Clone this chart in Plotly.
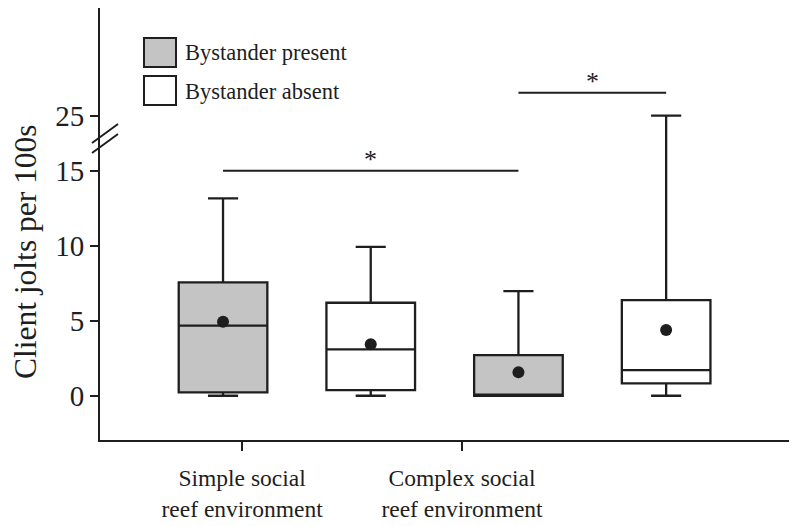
import plotly.graph_objects as go

# data (client jolts per 100 s)
group_labels = ["Simple social<br>reef environment", "Complex social<br>reef environment"]
conditions = ["Bystander present", "Bystander absent"]

# order: simple/present, simple/absent, complex/present, complex/absent
box_pos = [1, 2, 3, 4]
q1 = [0.22, 0.38, 0.0, 0.82]
median = [4.67, 3.09, 0.0, 1.71]
q3 = [7.56, 6.2, 2.71, 6.38]
lower = [0.0, 0.0, 0.0, 0.0]
upper = [13.16, 9.93, 6.98, 25.0]
means = [4.93, 3.44, 1.56, 4.38]

y_ticks = [0, 5, 10, 15, 25]

# broken y axis: everything above 15 is squeezed
BREAK = 15
SQUEEZE = 0.367


def ty(v):
    return v if v <= BREAK else BREAK + (v - BREAK) * SQUEEZE


# the page body adds an 8px margin, so shift the whole figure up/left
OFF = 8
W, H = 797 - OFF, 526 - OFF
L, R, T, B = 100 - OFF, W, 8 - OFF, 440 - OFF


def px(x):
    # screen pixel of the target -> paper x
    return (x - OFF - L) / (R - L)


def py(y):
    return (B - (y - OFF)) / (B - T)


ink = "#1e1e1e"
gray = "#c3c4c3"

fig = go.Figure()

fills = [gray, "white"]
for k in range(2):
    idx = [k, k + 2]
    fig.add_trace(go.Box(
        x=[box_pos[i] for i in idx],
        q1=[ty(q1[i]) for i in idx],
        median=[ty(median[i]) for i in idx],
        q3=[ty(q3[i]) for i in idx],
        lowerfence=[ty(lower[i]) for i in idx],
        upperfence=[ty(upper[i]) for i in idx],
        width=0.6, whiskerwidth=0.34,
        fillcolor=fills[k], line=dict(color=ink, width=2.3),
        boxpoints=False, name=conditions[k], showlegend=False,
    ))

fig.add_trace(go.Scatter(
    x=box_pos, y=[ty(m) for m in means], mode="markers",
    marker=dict(color=ink, size=12), showlegend=False,
))

# significance bars
fig.add_shape(type="line", x0=1, x1=3, y0=15, y1=15, line=dict(color=ink, width=2))
fig.add_shape(type="line", x0=3, x1=4, y0=20.2, y1=20.2, line=dict(color=ink, width=2))
fig.add_annotation(x=2, y=15.75, text="*", showarrow=False, font=dict(size=26, color=ink))
fig.add_annotation(x=3.5, y=20.95, text="*", showarrow=False, font=dict(size=26, color=ink))

# axis break marks
for dy in (0, 10):
    fig.add_shape(type="line", xref="paper", yref="paper",
                  x0=px(92), y0=py(143 + dy), x1=px(118), y1=py(124 + dy),
                  line=dict(color=ink, width=2))

# legend drawn by hand
for k, y0 in enumerate((38, 76)):
    fig.add_shape(type="rect", xref="paper", yref="paper",
                  x0=px(144), x1=px(176), y0=py(y0), y1=py(y0 + 29),
                  fillcolor=fills[k], line=dict(color=ink, width=2))
    fig.add_annotation(xref="paper", yref="paper", x=px(183), y=py(y0 + 15),
                       xanchor="left", yanchor="middle",
                       text=conditions[k], showarrow=False,
                       font=dict(size=22.5, color=ink))

fig.add_annotation(xref="paper", yref="paper", x=px(25), y=py(252),
                   xanchor="center", yanchor="middle",
                   text="Client jolts per 100s", textangle=-90, showarrow=False,
                   font=dict(size=31.5, color=ink))

fig.update_xaxes(range=[0.167, 4.886], showline=True, linecolor=ink, linewidth=2,
                 ticks="outside", ticklen=9, tickwidth=2, tickcolor=ink,
                 tickvals=[1.129, 2.618], ticktext=group_labels,
                 tickfont=dict(size=23.5, color=ink), ticklabelstandoff=7,
                 showgrid=False, zeroline=False, automargin=False)
fig.update_yaxes(range=[-2.95, 25.85], showline=True, linecolor=ink, linewidth=2,
                 ticks="outside", ticklen=8, tickwidth=2, tickcolor=ink,
                 tickvals=[ty(v) for v in y_ticks], ticktext=[str(v) for v in y_ticks],
                 tickfont=dict(size=29, color=ink), ticklabelstandoff=0,
                 showgrid=False, zeroline=False, automargin=False)

fig.update_layout(width=W, height=H, margin=dict(l=L, r=0, t=T, b=H - B),
                  plot_bgcolor="white", paper_bgcolor="white",
                  font=dict(family="Liberation Serif", color=ink))

fig.write_html("out.html")
